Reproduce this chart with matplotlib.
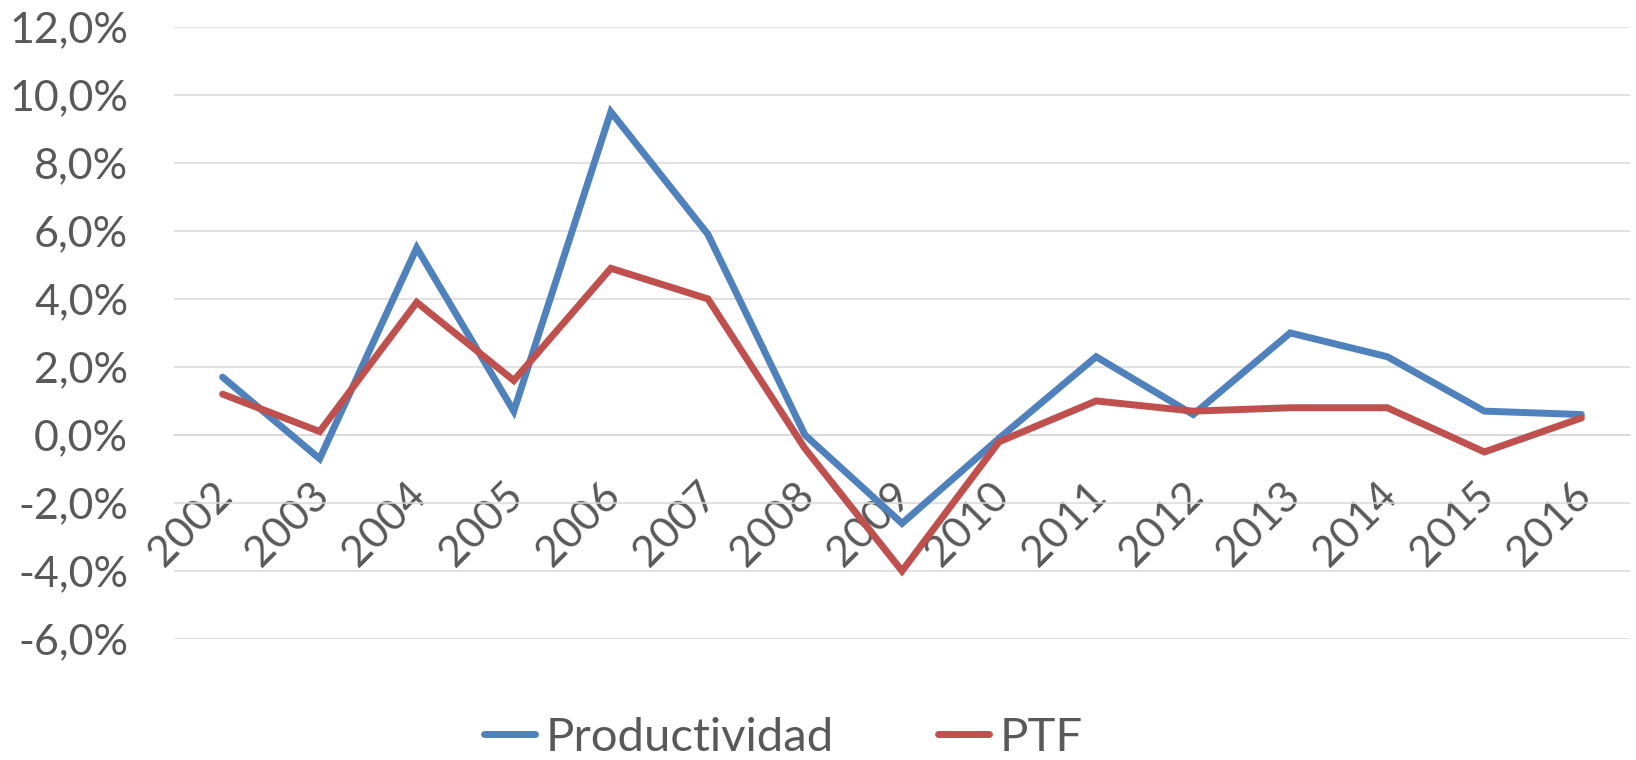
import matplotlib
matplotlib.use("Agg")
from matplotlib import pyplot as plt
from matplotlib.ticker import FuncFormatter
from matplotlib.transforms import ScaledTranslation

years = [str(y) for y in range(2002, 2017)]
productividad = [1.7, -0.7, 5.5, 0.7, 9.5, 5.9, 0.0, -2.6, -0.1, 2.3, 0.6, 3.0, 2.3, 0.7, 0.6]
ptf = [1.2, 0.1, 3.9, 1.6, 4.9, 4.0, -0.4, -4.0, -0.2, 1.0, 0.7, 0.8, 0.8, -0.5, 0.5]

plt.rcParams['font.family'] = ['Lato', 'DejaVu Sans']
txt_color = '#595959'

fig = plt.figure(figsize=(16.36, 7.6), dpi=100)
ax = fig.add_axes([0.1064, 0.1592, 0.8899, 0.8055])

x = range(len(years))
ax.plot(x, productividad, color='#4F81BD', linewidth=5, label='Productividad',
        solid_capstyle='round', solid_joinstyle='miter', zorder=3)
ax.plot(x, ptf, color='#C0504D', linewidth=5, label='PTF',
        solid_capstyle='round', solid_joinstyle='miter', zorder=3)

ax.set_xlim(-0.5, len(years) - 0.5)
ax.set_ylim(-6, 12)
ax.set_yticks(range(-6, 13, 2))
ax.yaxis.set_major_formatter(FuncFormatter(lambda v, p: ('%.1f%%' % v).replace('.', ',')))
ax.grid(axis='y', color='#D9D9D9', linewidth=1.1, zorder=0)

# eje x cruzando en 0
ax.spines['bottom'].set_position(('data', 0))
ax.spines['bottom'].set_color('#D9D9D9')
ax.spines['bottom'].set_linewidth(1.1)
for s in ['top', 'right', 'left']:
    ax.spines[s].set_visible(False)

ax.set_xticks(list(x))
ax.set_xticklabels(years, rotation=45, ha='right', rotation_mode='anchor')
ax.tick_params(axis='x', length=0, pad=33, labelsize=31, labelcolor=txt_color)
ax.tick_params(axis='y', length=0, pad=33, labelsize=31, labelcolor=txt_color)
shift = ScaledTranslation(-0.10, 0.05, fig.dpi_scale_trans)
for lbl in ax.get_xticklabels():
    lbl.set_transform(lbl.get_transform() + shift)

leg = fig.legend(loc='center', bbox_to_anchor=(0.479, 0.029), ncol=2, frameon=False,
                 fontsize=34, handlelength=1.08, handletextpad=0.23, columnspacing=2.2)
for t in leg.get_texts():
    t.set_color(txt_color)

fig.savefig('out.png', dpi=100)
